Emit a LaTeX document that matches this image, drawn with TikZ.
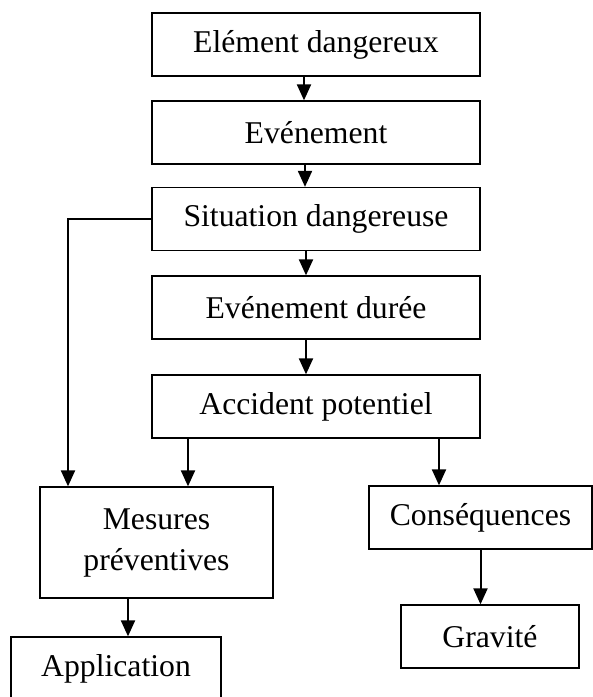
\documentclass[tikz,border=0pt]{standalone}
\usepackage{fontspec}
\setmainfont{Liberation Serif}
\usetikzlibrary{arrows.meta}

\begin{document}
\begin{tikzpicture}[
                x = 1pt, y = -1pt,
                > = {Triangle[length=16pt, width=14pt]},
                box/.style={ rectangle, draw = black, line width = 1.3pt, inner sep = 0pt,
                             font = \fontsize{31.7}{41}\selectfont, align = center },
                chain/.style={ box, minimum width = 328pt, minimum height = 63pt },
                arr/.style={ ->, line width = 2pt }
            ]
            \useasboundingbox (0, 0) rectangle (593, 697);

            \node (elem)   [chain] at (316, 44.5)  {Elément dangereux};
            \node (evt)    [chain] at (316, 132.5) {Evénement};
            \node (sit)    [chain] at (316, 219)   {Situation dangereuse};
            \node (duree)  [chain] at (316, 307.5) {Evénement durée};
            \node (acc)    [chain] at (316, 406.5) {Accident potentiel};
            \node (mes)    [box, minimum width = 233pt, minimum height = 111pt] at (156.5, 542.5) {Mesures\\préventives};
            \node (conseq) [box, minimum width = 223pt, minimum height = 63pt]  at (480.5, 517.5) {Conséquences};
            \node (grav)   [box, minimum width = 178pt, minimum height = 63pt]  at (490, 636.5)   {Gravité};
            \node (app)    [box, minimum width = 210pt, minimum height = 63pt]  at (116, 668.5)   {Application};

            \draw [arr] ([xshift=-12pt]elem.south)  -- ([xshift=-12pt]elem.south |- evt.north);
            \draw [arr] ([xshift=-11pt]evt.south)   -- ([xshift=-11pt]evt.south |- sit.north);
            \draw [arr] ([xshift=-10pt]sit.south)   -- ([xshift=-10pt]sit.south |- duree.north);
            \draw [arr] ([xshift=-10pt]duree.south) -- ([xshift=-10pt]duree.south |- acc.north);
            \draw [arr] (sit.west) -| ([xshift=-88.5pt]mes.north);
            \draw [arr] ([xshift=-128pt]acc.south)  -- ([xshift=-128pt]acc.south |- mes.north);
            \draw [arr] ([xshift=123pt]acc.south)   -- ([xshift=123pt]acc.south |- conseq.north);
            \draw [arr] ([xshift=-28.5pt]mes.south) -- ([xshift=-28.5pt]mes.south |- app.north);
            \draw [arr] (conseq.south)              -- (conseq.south |- grav.north);
        \end{tikzpicture}
\end{document}
